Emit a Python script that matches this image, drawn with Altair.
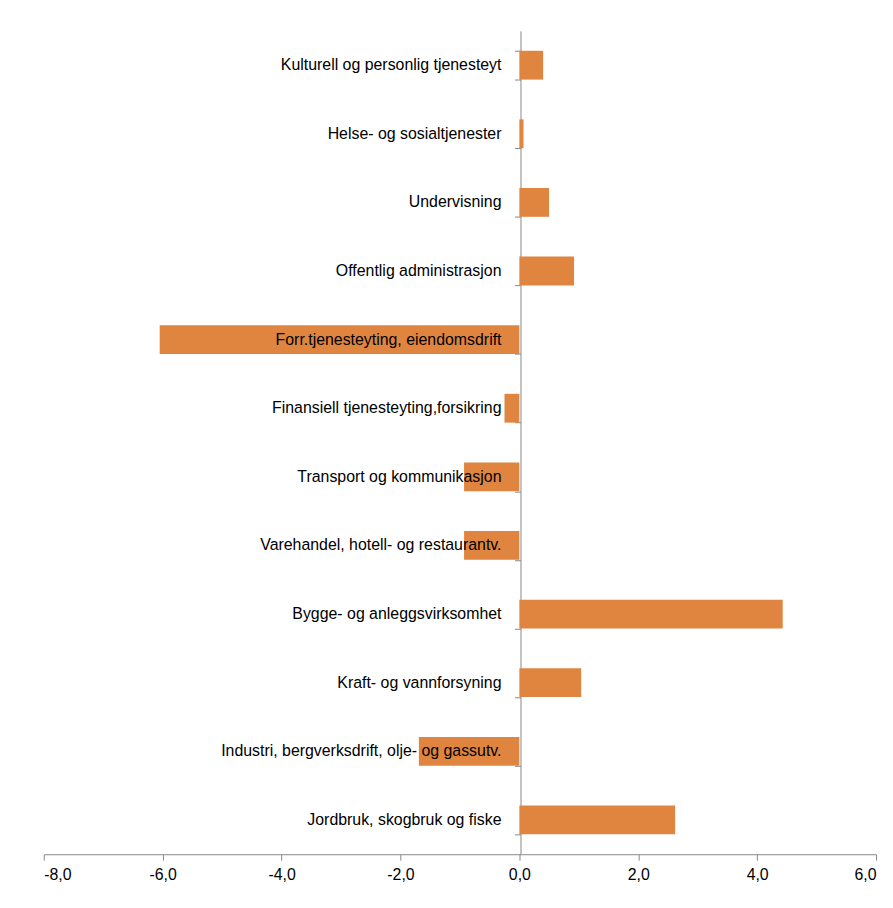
import altair as alt
import pandas as pd

categories = [
    "Kulturell og personlig tjenesteyt",
    "Helse- og sosialtjenester",
    "Undervisning",
    "Offentlig administrasjon",
    "Forr.tjenesteyting, eiendomsdrift",
    "Finansiell tjenesteyting,forsikring",
    "Transport og kommunikasjon",
    "Varehandel, hotell- og restaurantv.",
    "Bygge- og anleggsvirksomhet",
    "Kraft- og vannforsyning",
    "Industri, bergverksdrift, olje- og gassutv.",
    "Jordbruk, skogbruk og fiske",
]
values = [0.40, 0.07, 0.50, 0.92, -6.05, -0.25, -0.93, -0.93, 4.43, 1.04, -1.69, 2.62]

df = pd.DataFrame({"cat": categories, "val": values})

y = alt.Y("cat:N", sort=categories, title=None,
          scale=alt.Scale(paddingInner=0.58, paddingOuter=0.29),
          axis=alt.Axis(offset=-480, labels=False, tickBand="extent", domainColor="#888",
                        tickColor="#888", tickSize=6, grid=False))
x = alt.X("val:Q", title=None, scale=alt.Scale(domain=[-8, 6]),
          axis=alt.Axis(values=list(range(-8, 7, 2)), grid=False, domainColor="#888",
                        labelExpr="replace(replace(format(datum.value, '.1f'), '.', ','), '\u2212', '-')",
                        tickColor="#888", tickSize=6, labelFontSize=16, labelColor="black",
                        labelFont="Liberation Sans", labelPadding=6))

bars = alt.Chart(df).mark_bar(color="#E08540").encode(x=x, y=y)
labels = alt.Chart(df).mark_text(align="right", dx=-18, fontSize=16, font="Liberation Sans",
                                 color="black").encode(x=alt.datum(0), y=alt.Y("cat:N", sort=categories), text="cat:N")

chart = (bars + labels).properties(
    width=838, height=829,
    padding={"left": 35, "top": 20, "right": 8, "bottom": 5},
).configure_view(stroke=None)

chart.save("out.html", embed_options={"renderer": "svg", "actions": False})
